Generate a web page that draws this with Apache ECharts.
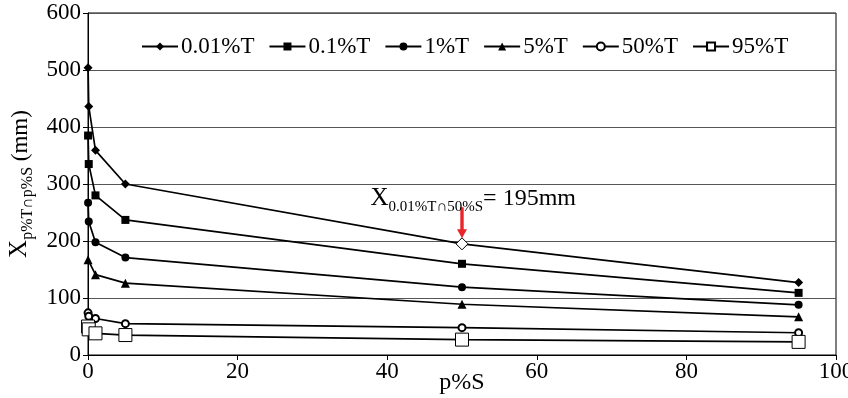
<!DOCTYPE html>
<html><head><meta charset="utf-8">
<script src="https://cdn.jsdelivr.net/npm/echarts@6/dist/echarts.min.js"></script>
<style>html,body{margin:0;padding:0;background:#fff}#c{width:848px;height:398px}</style>
</head><body><div id="c"></div>
<script>
const sValues = [0.01, 0.1, 1, 5, 50, 95];
const seriesNames = ['0.01%T', '0.1%T', '1%T', '5%T', '50%T', '95%T'];
const xT001 = [504, 436, 359, 300, 195, 127];
const xT01 = [385, 335, 280, 237, 160, 109];
const xT1 = [267, 234, 198, 171, 119, 88];
const xT5 = [167, null, 141, 126, 89, 67];
const xT50 = [74, 68, 64, 55, 48, 39];
const xT95 = [50, 45, 38, 35, 27, 23];
const yTicks = [0, 100, 200, 300, 400, 500, 600];
const xTicks = [0, 20, 40, 60, 80, 100];
const annot = { s: 50, value: 195 };

const FONT = '"Liberation Serif", "Times New Roman", serif';
const allVals = [xT001, xT01, xT1, xT5, xT50, xT95];
const symbols = ['diamond', 'rect', 'circle', 'triangle', 'emptyCircle', 'rect'];
const sizes = [9, 8, 8, 9, 7, 13];
const ARROW = 'path://M3.3,0 L6.7,0 L6.7,22 L10,22 L5,31 L0,22 L3.3,22 Z';

function mk(i) {
  const data = [];
  sValues.forEach((s, k) => {
    const v = allVals[i][k];
    if (v === null) return;
    if (i === 0 && s === annot.s) {
      data.push({ value: [s, v], symbolSize: 12, itemStyle: { color: '#fff', borderColor: '#000', borderWidth: 1 } });
    } else data.push([s, v]);
  });
  const ser = {
    name: seriesNames[i], type: 'line', data: data,
    symbol: symbols[i], symbolSize: sizes[i], showAllSymbol: true,
    lineStyle: { color: '#000', width: 1.7 },
    itemStyle: i === 5 ? { color: '#fff', borderColor: '#000', borderWidth: 1 } : { color: '#000' },
    emphasis: { disabled: true }, animation: false, z: 3 + i
  };
  if (i === 4) ser.itemStyle = { color: '#000', borderColor: '#000', borderWidth: 1 };
  if (i === 0) {
    ser.markPoint = {
      silent: true, symbol: 'circle', symbolSize: 0,
      label: {
        show: true, position: 'inside',
        formatter: '{a|X}{b|0.01%T∩50%S}{c|= ' + annot.value + 'mm}',
        rich: {
          a: { fontFamily: FONT, fontSize: 25, color: '#000', verticalAlign: 'bottom', lineHeight: 26 },
          b: { fontFamily: FONT, fontSize: 15, color: '#000', verticalAlign: 'bottom', lineHeight: 18, padding: [0, 0, -4, 0] },
          c: { fontFamily: FONT, fontSize: 24, color: '#000', verticalAlign: 'bottom', lineHeight: 26 }
        }
      },
      data: [
        { coord: [51.5, 276] },
        { coord: [annot.s, 232], symbol: ARROW, symbolSize: [10, 31], symbolKeepAspect: false,
          itemStyle: { color: '#e8262b' }, label: { show: false } }
      ]
    };
  }
  return ser;
}

const chart = echarts.init(document.getElementById('c'), null, { renderer: 'canvas' });
chart.setOption({
  animation: false,
  backgroundColor: '#fff',
  grid: { left: 88, right: 12, top: 13, bottom: 43, show: true, borderColor: '#000', borderWidth: 1, containLabel: false, outerBoundsMode: 'none' },
  legend: {
    data: seriesNames, top: 30, left: 136, itemWidth: 36, itemHeight: 10, itemGap: 14,
    textStyle: { fontFamily: FONT, fontSize: 23, color: '#000', padding: [0, 0, 0, -2] },
    backgroundColor: '#fff'
  },
  xAxis: {
    type: 'value', min: xTicks[0], max: xTicks[xTicks.length - 1], interval: 20,
    name: 'p%S', nameLocation: 'middle', nameGap: 16, nameMoveOverlap: false,
    nameTextStyle: { fontFamily: FONT, fontSize: 24, color: '#000' },
    axisLine: { show: true, lineStyle: { color: '#000', width: 1 } },
    axisTick: { show: true, length: 5, lineStyle: { color: '#000' } },
    axisLabel: { fontFamily: FONT, fontSize: 23, color: '#000', margin: 5 },
    splitLine: { show: false }
  },
  yAxis: {
    type: 'value', min: yTicks[0], max: yTicks[yTicks.length - 1], interval: 100,
    name: '{a|X}{b|p%T∩p%S}{c| (mm)}', nameLocation: 'middle', nameRotate: 90, nameGap: 56, nameMoveOverlap: false,
    nameTextStyle: {
      rich: {
        a: { fontFamily: FONT, fontSize: 25, color: '#000', verticalAlign: 'bottom', lineHeight: 26 },
        b: { fontFamily: FONT, fontSize: 16, color: '#000', verticalAlign: 'bottom', lineHeight: 18, padding: [0, 0, -4, 0] },
        c: { fontFamily: FONT, fontSize: 23, color: '#000', verticalAlign: 'bottom', lineHeight: 26 }
      }
    },
    axisLine: { show: true, lineStyle: { color: '#000', width: 1 } },
    axisTick: { show: true, length: 5, lineStyle: { color: '#000' } },
    axisLabel: { fontFamily: FONT, fontSize: 23, color: '#000', margin: 7 },
    splitLine: { show: true, lineStyle: { color: '#555', width: 1 } }
  },
  series: [0, 1, 2, 3, 4, 5].map(mk)
});
</script>
</body></html>
